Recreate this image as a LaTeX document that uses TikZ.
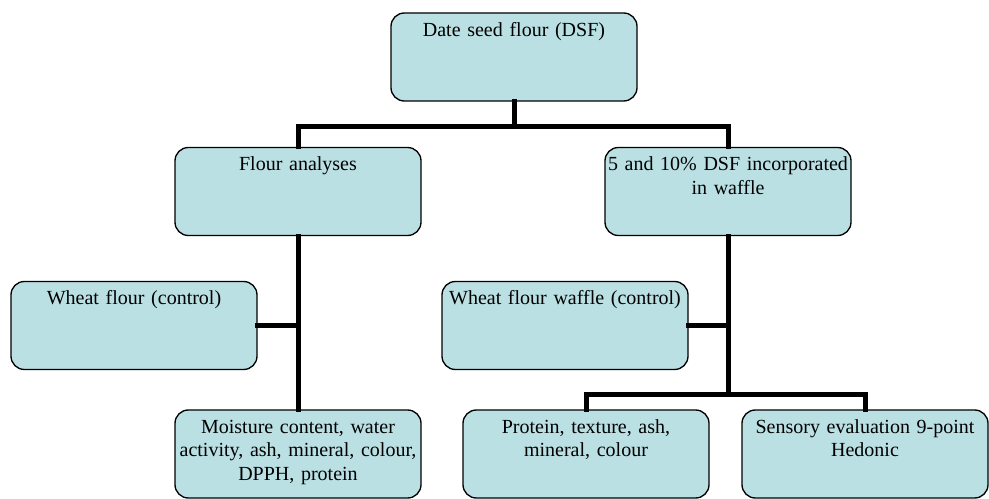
\documentclass[tikz,border=0pt]{standalone}
\usepackage{fontspec}
\setmainfont{Liberation Serif}
\usepackage{tikz}
\usetikzlibrary{positioning, calc}
\definecolor{boxfill}{RGB}{186,224,227}
\tikzstyle{Link} = [
    line width = 3.75pt,
    line cap = rect,
    line join = miter
]

\begin{document}
\begin{tikzpicture}[
x = 0.75pt, y = -0.75pt,
card/.style={
    rectangle,
    draw = black,
    line width = 1pt,
    fill = boxfill,
    rounded corners = 10pt,
    minimum width = 184.5pt,
    text width = 184.5pt,
    inner xsep = 0pt,
    inner ysep = 6pt,
    align = center,
    text height = 11.5pt,
    text depth = 42.5pt,
    font = \fontsize{15pt}{17.5pt}\selectfont
    }
]
\useasboundingbox (0,0) rectangle (989,499);

\node [card] (dsf) at (514,57) {Date seed flour (DSF)};
\node [card] (flour) at (298,191.5) {Flour analyses};
\node [card] (waffle) at (728,191.5) {5 and 10\% DSF incorporated\\in waffle};
\node [card] (wheat) at (134,325.5) {Wheat flour (control)};
\node [card] (wheatwaffle) at (565,325.5) {Wheat flour waffle (control)};
\node [card] (moisture) at (298,454) {Moisture content, water\\activity, ash, mineral, colour,\\DPPH, protein};
\node [card] (protein) at (586,454) {Protein, texture, ash,\\mineral, colour};
\node [card] (sensory) at (865,454) {Sensory evaluation 9-point\\Hedonic};

\draw[Link] (dsf.south) -- ++(0,25) -| (flour.north);
\draw[Link] (dsf.south) -- ++(0,25) -| (waffle.north);

\draw[Link] (flour.south) -- (moisture.north);
\draw[Link] (wheat.east) -- (wheat.east -| flour.south);

\draw[Link] (waffle.south) -- (wheatwaffle.east -| waffle.south);
\draw[Link] (wheatwaffle.east) -- (wheatwaffle.east -| waffle.south);
\draw[Link] (waffle.south) -- ++(0,158) -| (protein.north);
\draw[Link] (waffle.south) -- ++(0,158) -| (sensory.north);

\end{tikzpicture}
\end{document}
